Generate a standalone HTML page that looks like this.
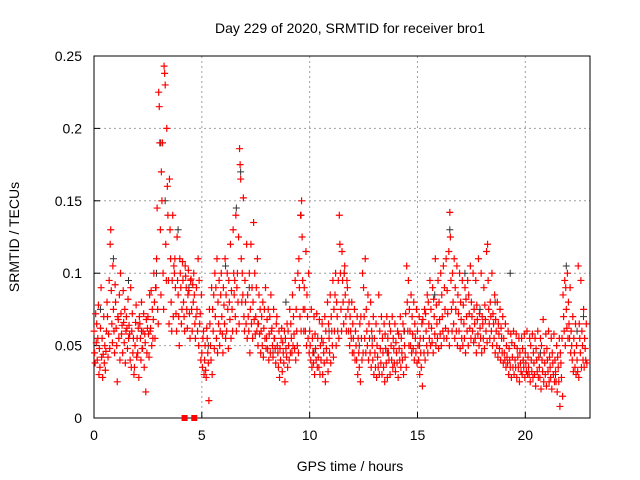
<!DOCTYPE html>
<html><head><meta charset="utf-8"><style>
body{margin:0;background:#fff}
svg{display:block;font-family:"Liberation Sans",sans-serif}
</style></head><body>
<svg id="chart" width="640" height="480">
<rect x="0" y="0" width="640" height="480" fill="#fff"/>
<g id="grid"></g>
<g id="axes"></g>
<g id="marks"></g>
<text x="350" y="33" text-anchor="middle" font-size="14">Day 229 of 2020, SRMTID for receiver bro1</text>
<text x="350" y="471" text-anchor="middle" font-size="14">GPS time / hours</text>
<text transform="translate(19,237) rotate(-90)" text-anchor="middle" font-size="14">SRMTID / TECUs</text>
</svg>
<script>
const xTicks=[0,5,10,15,20];
const yTicks=[0,0.05,0.1,0.15,0.2,0.25];
const yTickLabels=["0","0.05","0.1","0.15","0.2","0.25"];
const timeStep=0.125;
// red series: each row = values (thousandths of TECU) at time row*timeStep
const redRows=[
[60,45,38,72,52],[65,40,55,78,30],[48,35,62,90,42],[55,28,44,70,38],[50,33,46,60,80],[70,42,58,95,48],[120,130,88,65,52],[105,75,60,45,92],
[80,62,50,25,70],[68,55,85,40,100],[72,58,64,45,88],[66,52,75,38,60],[70,62,48,82,55],[64,58,40,90,35],[60,72,45,55,30],[35,50,66,78,42],
[55,45,62,28,70],[65,55,40,80,48],[48,60,72,35,58],[52,18,68,45,62],[70,58,42,85,60],[62,88,50,75,55],[68,100,80,55,90],[90,110,145,75,65],
[225,215,190,130,85],[170,150,190,100,75],[243,238,230,120,95],[200,160,140,95,65],[165,130,110,80,60],[95,140,70,105,100],[110,90,72,60,125],[95,85,70,50,110],
[100,90,65,75,108],[95,80,70,60,105],[98,90,75,62,85],[102,88,72,55,95],[96,75,60,92,80],[100,85,65,55,70],[90,75,60,110,50],[95,65,72,40,85],
[45,35,55,60,30],[40,50,33,28,62],[55,45,38,12,75],[65,50,40,90,30],[75,60,85,48,100],[70,90,55,110,45],[80,65,95,50,60],[85,100,70,58,45],
[90,78,65,110,55],[85,60,100,75,48],[95,80,68,120,55],[88,75,60,130,100],[85,95,70,140,60],[90,100,80,125,65],[186,175,165,110,80],[100,85,152,70,60],
[95,80,65,120,55],[85,70,60,100,45],[75,120,65,90,55],[80,135,68,100,58],[70,90,60,110,50],[65,85,58,75,45],[60,70,50,80,42],[62,75,55,90,48],
[55,68,48,75,40],[58,70,45,85,60],[62,50,42,75,55],[55,48,38,65,70],[50,45,35,60,28],[48,40,55,62,32],[52,45,38,60,25],[55,48,42,65,35],
[60,50,40,75,45],[65,55,45,85,50],[70,58,48,95,40],[75,60,50,100,45],[110,90,70,140,60],[150,125,95,75,60],[90,75,60,115,50],[85,70,55,100,45],
[60,50,40,75,35],[55,45,38,70,30],[58,48,40,72,35],[55,42,35,68,30],[50,40,55,65,30],[52,45,38,70,25],[60,48,40,80,32],[65,55,45,85,38],
[70,60,50,95,42],[75,60,85,100,50],[80,70,60,95,55],[140,120,100,75,60],[115,95,80,65,100],[105,85,70,60,95],[90,75,60,80,50],[70,60,55,80,45],
[65,55,45,75,40],[60,50,40,70,30],[55,45,35,65,25],[70,55,40,100,45],[90,70,55,110,45],[75,60,50,85,40],[65,55,45,80,35],[60,50,40,70,30],
[55,45,35,65,28],[50,42,35,85,30],[60,48,38,70,30],[55,45,35,65,25],[58,48,38,70,28],[55,45,40,65,30],[60,50,40,70,35],[55,48,38,65,32],
[52,45,38,60,28],[58,48,40,70,35],[55,45,40,65,30],[60,50,42,72,35],[105,80,60,95,50],[75,60,50,85,45],[70,58,48,80,40],[65,55,45,75,38],
[60,50,40,70,30],[55,45,35,65,22],[68,55,45,75,40],[72,60,50,85,45],[80,65,55,95,50],[75,62,52,90,45],[82,70,58,110,50],[78,65,55,95,48],
[80,68,58,100,50],[85,70,60,105,55],[90,75,62,110,55],[88,72,60,115,50],[142,125,95,75,60],[100,80,65,110,55],[90,75,60,105,50],[85,72,60,100,48],
[80,68,55,95,50],[78,65,55,90,45],[82,70,60,95,50],[85,72,62,105,55],[80,70,60,100,52],[75,65,55,95,45],[78,68,58,110,50],[72,62,55,100,45],
[70,65,55,90,48],[78,68,60,115,52],[120,95,75,65,55],[80,70,60,100,50],[72,65,55,85,45],[68,60,50,80,42],[65,58,48,75,40],[62,55,45,70,38],
[55,45,40,65,35],[50,42,38,60,30],[48,40,35,58,28],[52,42,35,60,30],[50,40,35,58,28],[48,42,35,55,25],[45,38,32,55,30],[48,40,35,58,28],
[45,38,32,60,30],[42,35,30,55,25],[50,40,32,58,28],[45,38,30,55,22],[48,40,32,60,28],[42,35,28,55,20],[50,40,32,68,25],[45,38,30,58,22],
[48,40,32,60,25],[42,35,28,55,20],[45,38,30,58,25],[40,32,25,50,18],[42,35,25,55,8],[45,38,28,55,15],[85,70,60,95,50],[90,75,62,100,55],
[80,65,55,90,45],[60,50,40,70,32],[55,45,35,65,30],[50,40,32,105,28],[65,55,45,95,35],[60,50,40,75,35],[55,48,40,65,38]
];
// black series points
const blackT=[0.3,0.9,1.6,2.2,2.9,3.1,3.3,3.9,4.4,5.3,6.1,6.6,6.8,7.2,7.6,8.3,8.9,9.6,10.2,10.9,11.6,12.3,12.9,13.6,14.4,15.1,15.8,16.5,17.2,17.9,18.6,19.3,19.9,20.7,21.4,21.9,22.4,22.7];
const blackV=[0.075,0.11,0.095,0.06,0.1,0.19,0.15,0.13,0.09,0.05,0.105,0.145,0.17,0.09,0.065,0.045,0.08,0.14,0.045,0.06,0.1,0.05,0.055,0.045,0.06,0.05,0.085,0.13,0.1,0.075,0.08,0.1,0.04,0.045,0.03,0.105,0.06,0.07];
// zero-value markers (filled squares)
const zeroT=[4.2,4.65];

const X0=94,X1=590,Y0=418,Y1=56,XMAX=23,YMAX=0.25;
const sx=t=>X0+t/XMAX*(X1-X0);
const sy=v=>Y0-v/YMAX*(Y0-Y1);
const NS="http://www.w3.org/2000/svg";
const grid=document.getElementById('grid'),axes=document.getElementById('axes'),marks=document.getElementById('marks');
function mk(tag,attrs,parent){const e=document.createElementNS(NS,tag);for(const k in attrs)e.setAttribute(k,attrs[k]);parent.appendChild(e);return e;}
xTicks.forEach(t=>{
 if(t>0){const g=mk('line',{x1:sx(t),x2:sx(t),y1:Y1,y2:Y0,stroke:'#a0a0a0','stroke-dasharray':'2,3'},grid);
 
 }
 const tk=mk('line',{x1:sx(t),x2:sx(t),y1:Y0,y2:Y0-6,stroke:'#000'},axes);
 
 
 const l=mk('text',{x:sx(t),y:Y0+22,'text-anchor':'middle','font-size':14},axes);l.textContent=String(t);
 
 
});
yTicks.forEach((v,i)=>{
 if(v>0&&v<YMAX){const g=mk('line',{x1:X0,x2:X1,y1:sy(v),y2:sy(v),stroke:'#a0a0a0','stroke-dasharray':'2,3'},grid);
 
 }
 const tk=mk('line',{x1:X0,x2:X0+6,y1:sy(v),y2:sy(v),stroke:'#000'},axes);
 
 
 const l=mk('text',{x:X0-12,y:sy(v)+5,'text-anchor':'end','font-size':14},axes);l.textContent=yTickLabels[i];
 
 
});
const fr=mk('rect',{x:X0,y:Y1,width:X1-X0,height:Y0-Y1,fill:'none',stroke:'#000'},axes);


let dB='';
blackT.forEach((t,i)=>{const x=sx(t),y=sy(blackV[i]);dB+=`M${x-3.5},${y}h7M${x},${y-3.5}v7`;});
const pb=mk('path',{d:dB,stroke:'#333',fill:'none','stroke-width':1},marks);


let dR='';
redRows.forEach((row,i)=>{const t=i*timeStep;row.forEach((v,j)=>{const x=sx(t+j*0.026),y=sy(v/1000);dR+=`M${x-3.5},${y}h7M${x},${y-3.5}v7`;});});
const pr=mk('path',{d:dR,stroke:'#ff0000',fill:'none','stroke-width':1.2},marks);


zeroT.forEach(t=>{const r=mk('rect',{x:sx(t)-3,y:sy(0)-3,width:6,height:6,fill:'#ff0000'},marks);
 
 });
</script>
</body></html>
